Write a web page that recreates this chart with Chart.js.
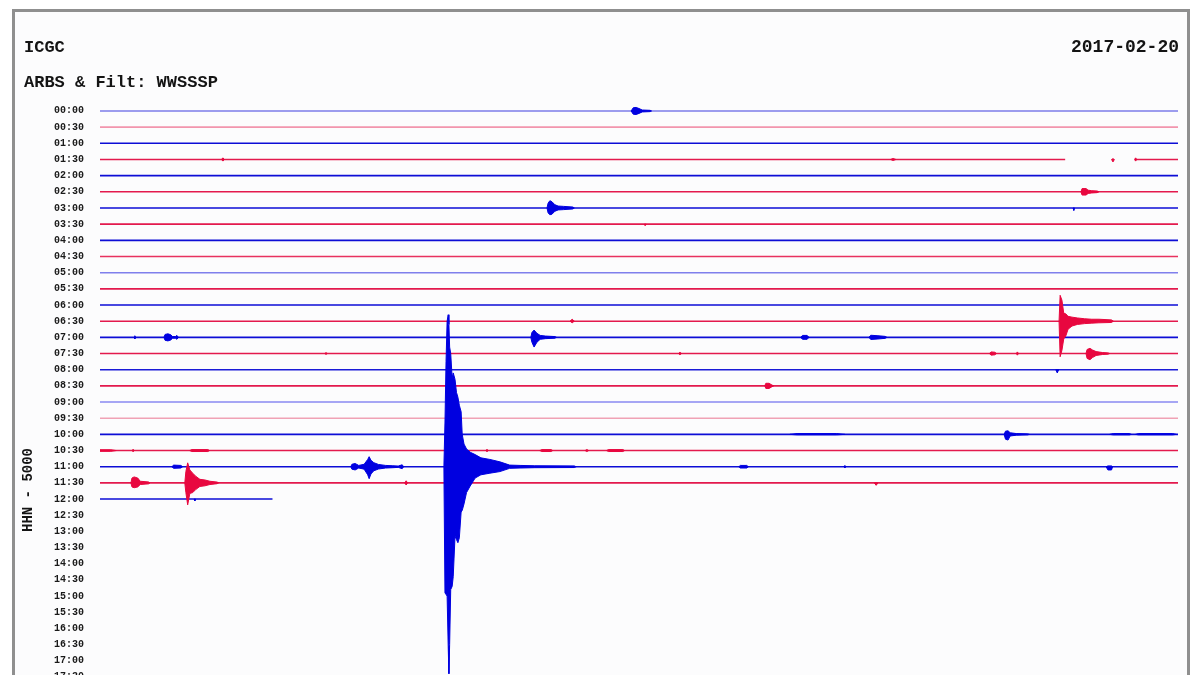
<!DOCTYPE html>
<html>
<head>
<meta charset="utf-8">
<title>ARBS helicorder 2017-02-20</title>
<script src="https://cdn.jsdelivr.net/npm/chart.js"></script>
<style>
  html, body { margin: 0; padding: 0; background: #fff; }
  #wrap { width: 1200px; height: 675px; }
</style>
</head>
<body>
<div id="wrap"><canvas id="heli" width="1200" height="675"></canvas></div>
<script>
// textos de la cabecera
const stationName = "ICGC";
const subtitle = "ARBS & Filt: WWSSSP";
const dayLabel = "2017-02-20";
const channelLabel = "HHN - 5000";

// etiquetas de cada fila (30 min por fila)
const rowLabels = ["00:00", "00:30", "01:00", "01:30", "02:00", "02:30", "03:00", "03:30",
    "04:00", "04:30", "05:00", "05:30", "06:00", "06:30", "07:00", "07:30",
    "08:00", "08:30", "09:00", "09:30", "10:00", "10:30", "11:00", "11:30",
    "12:00", "12:30", "13:00", "13:30", "14:00", "14:30", "15:00", "15:30",
    "16:00", "16:30", "17:00", "17:30"];

// color de la linea base de cada traza grabada (00:00 .. 12:00)
const traceColors = ["#7c7ce8", "#f295ad", "#0d0dd6", "#e3194d", "#0d0dd6", "#e3194d",
    "#0d0dd6", "#e3194d", "#0d0dd6", "#e8325f", "#7f7fec", "#e3194d",
    "#0d0dd6", "#e3194d", "#0d0dd6", "#e3194d", "#1a1ad8", "#e3194d",
    "#8a8af0", "#f0a2b5", "#0d0dd6", "#e3194d", "#0d0dd6", "#e3194d", "#0d0dd6"];

// minuto final de cada traza (la ultima aun se estaba grabando)
const traceEnds = [30, 30, 30, 30, 30, 30, 30, 30, 30, 30, 30, 30, 30,
    30, 30, 30, 30, 30, 30, 30, 30, 30, 30, 30, 4.8];

// hueco sin datos en la fila 01:30 (minutos)
const gapRow3 = [26.86, 28.81];

const eventBlue = "#0000e0";
const eventRed = "#e8073f";

// envolventes de las senales: [minuto, amplitud arriba, amplitud abajo] en filas
const ev00_00 = [
    [[14.78, 0, 0], [14.84, 0.2, 0.2], [14.92, 0.22, 0.22], [15.0, 0.15, 0.15], [15.09, 0.06, 0.06], [15.31, 0.04, 0.04], [15.35, 0, 0]]
];
const ev01_30 = [
    [[3.38, 0, 0], [3.42, 0.1, 0.1], [3.46, 0, 0]],
    [[22.0, 0, 0], [22.07, 0.06, 0.06], [22.15, 0, 0]],
    [[28.15, 0, 0], [28.19, 0.05, 0.15], [28.23, 0, 0]],
    [[28.79, 0, 0], [28.82, 0.1, 0.1], [28.85, 0, 0]]
];
const ev02_30 = [
    [[27.3, 0, 0], [27.33, 0.2, 0.2], [27.44, 0.2, 0.2], [27.5, 0.1, 0.1], [27.6, 0.07, 0.07], [27.75, 0.05, 0.05], [27.8, 0, 0]]
];
const ev03_00 = [
    [[12.44, 0, 0], [12.47, 0.3, 0.3], [12.52, 0.45, 0.42], [12.58, 0.38, 0.38], [12.66, 0.2, 0.2], [12.75, 0.12, 0.12], [12.9, 0.1, 0.1], [13.16, 0.06, 0.06], [13.2, 0, 0]],
    [[27.08, 0, 0], [27.1, 0, 0.15], [27.12, 0, 0]]
];
const ev03_30 = [
    [[15.15, 0, 0], [15.17, 0, 0.1], [15.2, 0, 0]]
];
const ev06_30 = [
    [[13.08, 0, 0], [13.14, 0.12, 0.1], [13.2, 0, 0]],
    [[26.69, 0, 0], [26.72, 1.6, 2.2], [26.77, 1.3, 1.8], [26.82, 0.5, 1.1], [26.88, 0.45, 0.9], [26.94, 0.3, 0.5], [27.05, 0.25, 0.3], [27.2, 0.2, 0.2], [27.4, 0.15, 0.15], [27.6, 0.12, 0.12], [27.8, 0.12, 0.1], [28.15, 0.08, 0.08], [28.2, 0, 0]]
];
const ev07_00 = [
    [[0.95, 0, 0], [0.97, 0.1, 0.1], [0.99, 0, 0]],
    [[1.78, 0, 0], [1.81, 0.18, 0.18], [1.89, 0.22, 0.22], [1.97, 0.16, 0.16], [2.02, 0.05, 0.05], [2.1, 0.05, 0.05], [2.14, 0.12, 0.12], [2.18, 0, 0]],
    [[11.99, 0, 0], [12.02, 0.3, 0.3], [12.08, 0.45, 0.6], [12.16, 0.25, 0.3], [12.25, 0.12, 0.12], [12.4, 0.08, 0.08], [12.66, 0.05, 0.05], [12.7, 0, 0]],
    [[19.5, 0, 0], [19.55, 0.12, 0.12], [19.68, 0.12, 0.12], [19.73, 0, 0]],
    [[21.4, 0, 0], [21.45, 0.13, 0.13], [21.65, 0.1, 0.1], [21.85, 0.06, 0.06], [21.9, 0, 0]]
];
const ev07_30 = [
    [[6.26, 0, 0], [6.29, 0.06, 0.06], [6.32, 0, 0]],
    [[16.1, 0, 0], [16.14, 0.08, 0.08], [16.18, 0, 0]],
    [[24.75, 0, 0], [24.8, 0.1, 0.1], [24.9, 0.08, 0.08], [24.95, 0, 0]],
    [[25.5, 0, 0], [25.53, 0.1, 0.1], [25.56, 0, 0]],
    [[27.44, 0, 0], [27.47, 0.25, 0.3], [27.55, 0.32, 0.38], [27.62, 0.22, 0.25], [27.72, 0.12, 0.12], [27.9, 0.06, 0.06], [28.05, 0.04, 0.04], [28.1, 0, 0]]
];
const ev08_00 = [
    [[26.6, 0, 0], [26.64, 0, 0.2], [26.68, 0, 0]]
];
const ev08_30 = [
    [[18.5, 0, 0], [18.53, 0.16, 0.16], [18.62, 0.16, 0.16], [18.7, 0.05, 0.05], [18.75, 0, 0]]
];
const ev10_00 = [
    [[19.2, 0, 0], [19.4, 0.05, 0.03], [20.5, 0.05, 0.03], [20.73, 0, 0]],
    [[25.16, 0, 0], [25.2, 0.2, 0.3], [25.27, 0.22, 0.35], [25.33, 0.1, 0.1], [25.5, 0.05, 0.05], [25.82, 0.03, 0.03], [25.86, 0, 0]],
    [[28.1, 0, 0], [28.2, 0.05, 0.03], [28.65, 0.05, 0.03], [28.7, 0, 0]],
    [[28.82, 0, 0], [28.9, 0.05, 0.03], [29.85, 0.05, 0.03], [29.95, 0, 0]]
];
const ev10_30 = [
    [[0.0, 0.05, 0.05], [0.3, 0.05, 0.05], [0.45, 0, 0]],
    [[0.9, 0, 0], [0.92, 0.08, 0.08], [0.95, 0, 0]],
    [[2.5, 0, 0], [2.55, 0.06, 0.06], [3.0, 0.06, 0.06], [3.05, 0, 0]],
    [[10.74, 0, 0], [10.77, 0.08, 0.08], [10.8, 0, 0]],
    [[12.24, 0, 0], [12.3, 0.06, 0.06], [12.55, 0.06, 0.06], [12.6, 0, 0]],
    [[13.5, 0, 0], [13.55, 0.06, 0.06], [13.6, 0, 0]],
    [[14.1, 0, 0], [14.15, 0.06, 0.06], [14.55, 0.06, 0.06], [14.6, 0, 0]]
];
const ev11_00 = [
    [[2.0, 0, 0], [2.05, 0.1, 0.1], [2.25, 0.08, 0.08], [2.3, 0, 0]],
    [[6.98, 0, 0], [7.01, 0.15, 0.15], [7.1, 0.2, 0.2], [7.2, 0.08, 0.08], [7.35, 0.15, 0.15], [7.45, 0.45, 0.5], [7.49, 0.62, 0.74], [7.54, 0.4, 0.45], [7.62, 0.25, 0.25], [7.75, 0.14, 0.14], [7.95, 0.08, 0.08], [8.15, 0.06, 0.06], [8.3, 0.04, 0.04], [8.41, 0.12, 0.12], [8.45, 0, 0]],
    // terremoto principal
    [[9.57, 0, 0], [9.6, 2.7, 7.8], [9.63, 6.5, 7.9], [9.66, 9.0, 8.0], [9.69, 9.4, 11.1], [9.71, 8.8, 12.8], [9.73, 7.4, 11.0],
     [9.76, 7.0, 7.6], [9.8, 5.5, 7.4], [9.83, 5.8, 6.8], [9.88, 5.4, 4.3], [9.92, 4.6, 4.5], [9.96, 4.3, 4.7], [10.0, 3.8, 4.4],
     [10.05, 3.4, 2.8], [10.08, 2.0, 2.7], [10.13, 1.4, 2.3], [10.2, 1.1, 1.6], [10.3, 0.9, 1.2], [10.44, 0.75, 0.7],
     [10.6, 0.55, 0.5], [10.85, 0.45, 0.4], [11.13, 0.3, 0.3], [11.4, 0.1, 0.1], [11.69, 0.08, 0.08], [12.1, 0.06, 0.06],
     [13.2, 0.05, 0.05], [13.25, 0, 0]],
    [[17.78, 0, 0], [17.82, 0.08, 0.08], [18.0, 0.08, 0.08], [18.04, 0, 0]],
    [[20.7, 0, 0], [20.73, 0.08, 0.08], [20.76, 0, 0]],
    [[28.0, 0, 0], [28.05, 0.05, 0.2], [28.15, 0.05, 0.2], [28.18, 0, 0]]
];
const ev11_30 = [
    [[0.86, 0, 0], [0.89, 0.3, 0.25], [0.95, 0.37, 0.3], [1.05, 0.3, 0.25], [1.12, 0.1, 0.1], [1.35, 0.06, 0.06], [1.39, 0, 0]],
    [[2.36, 0, 0], [2.39, 0.7, 0.6], [2.44, 1.24, 1.36], [2.5, 0.8, 0.65], [2.58, 0.6, 0.6], [2.67, 0.4, 0.4], [2.78, 0.22, 0.22], [2.92, 0.18, 0.18], [3.06, 0.1, 0.1], [3.26, 0.05, 0.05], [3.3, 0, 0]],
    [[8.48, 0, 0], [8.52, 0.13, 0.13], [8.56, 0, 0]],
    [[21.55, 0, 0], [21.6, 0, 0.15], [21.65, 0, 0]]
];
const ev12_00 = [
    [[2.62, 0, 0], [2.64, 0, 0.12], [2.66, 0, 0]]
];

// fila de cada grupo de eventos
const eventTable = [
    [0, ev00_00], [3, ev01_30], [5, ev02_30], [6, ev03_00], [7, ev03_30],
    [13, ev06_30], [14, ev07_00], [15, ev07_30], [16, ev08_00], [17, ev08_30],
    [20, ev10_00], [21, ev10_30], [22, ev11_00], [23, ev11_30], [24, ev12_00]
];

const datasets = [];

// eventos: dos lineas (envolvente superior e inferior) y relleno entre ellas
eventTable.forEach(([row, bursts]) => {
    const color = row % 2 === 0 ? eventBlue : eventRed;
    bursts.forEach(burst => {
        datasets.push({
            data: burst.map(p => ({ x: p[0], y: row - p[1] })),
            borderColor: color, borderWidth: 1, pointRadius: 0, fill: false, order: 0
        });
        datasets.push({
            data: burst.map(p => ({ x: p[0], y: row + p[2] })),
            borderColor: color, backgroundColor: color, borderWidth: 1, pointRadius: 0,
            fill: "-1", order: 0
        });
    });
});

// lineas base
traceEnds.forEach((end, row) => {
    let pts = [{ x: 0, y: row }, { x: end, y: row }];
    if (row === 3) {
        pts = [{ x: 0, y: row }, { x: gapRow3[0], y: row }, { x: (gapRow3[0] + gapRow3[1]) / 2, y: null },
            { x: gapRow3[1], y: row }, { x: end, y: row }];
    }
    datasets.push({
        data: pts, borderColor: traceColors[row], borderWidth: 1.6, pointRadius: 0,
        fill: false, spanGaps: false, order: 1
    });
});

const paperPlugin = {
    id: "paper",
    beforeDraw(chart) {
        const ctx = chart.ctx;
        ctx.save();
        ctx.fillStyle = "#ffffff";
        ctx.fillRect(0, 0, chart.width, chart.height);
        ctx.fillStyle = "#fcfcfd";
        ctx.fillRect(13, 10, 1176, 700);
        ctx.strokeStyle = "#8f8f8f";
        ctx.lineWidth = 3;
        ctx.strokeRect(13.5, 10.5, 1175, 700);

        ctx.fillStyle = "#141414";
        ctx.font = 'bold 17px "Liberation Mono"';
        ctx.textAlign = "left";
        ctx.fillText(stationName, 24, 52);
        ctx.fillText(subtitle, 24, 87);
        ctx.textAlign = "right";
        ctx.font = 'bold 18px "Liberation Mono"';
        ctx.fillText(dayLabel, 1179, 52);

        ctx.translate(32, 490);
        ctx.rotate(-Math.PI / 2);
        ctx.textAlign = "center";
        ctx.font = 'bold 14px "Liberation Mono"';
        ctx.fillText(channelLabel, 0, 0);
        ctx.restore();
    }
};

new Chart(document.getElementById("heli"), {
    type: "line",
    data: { datasets: datasets },
    options: {
        responsive: false,
        animation: false,
        events: [],
        layout: { padding: { left: 0, right: 22, top: 94.8, bottom: 0 } },
        elements: { line: { tension: 0 } },
        plugins: { legend: { display: false }, tooltip: { enabled: false } },
        scales: {
            x: { type: "linear", min: 0, max: 30, display: false },
            y: {
                type: "linear",
                reverse: true,
                min: -1,
                max: 34.88,
                grid: { display: false, drawTicks: false },
                border: { display: false },
                afterBuildTicks: s => { s.ticks = rowLabels.map((l, i) => ({ value: i })); },
                afterFit: s => { s.width = 100; s.paddingTop = 0; s.paddingBottom = 0; },
                ticks: {
                    autoSkip: false,
                    padding: 16,
                    color: "#1a1a1a",
                    font: { family: "Liberation Mono", size: 10, weight: "bold" },
                    callback: v => rowLabels[v] !== undefined ? rowLabels[v] : ""
                }
            }
        }
    },
    plugins: [paperPlugin]
});
</script>
</body>
</html>
